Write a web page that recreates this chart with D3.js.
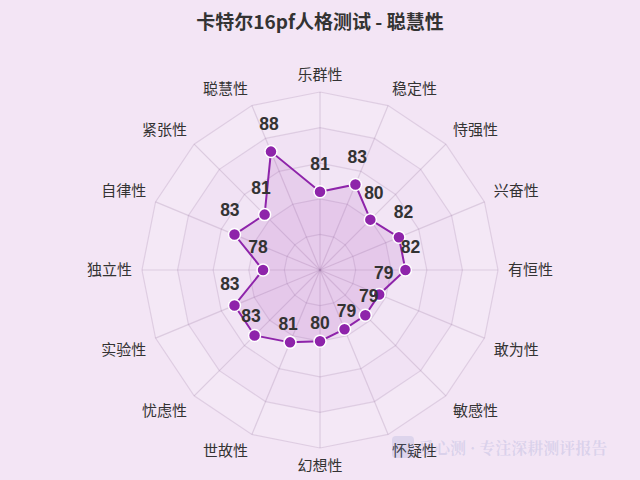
<!DOCTYPE html>
<html><head><meta charset="utf-8">
<script src="https://cdn.jsdelivr.net/npm/d3@7"></script>
<style>body{margin:0;background:#f3e5f5;}svg{display:block;}</style>
</head><body>
<svg id="c" width="640" height="480"></svg>
<script>
const categories = ["乐群性","稳定性","恃强性","兴奋性","有恒性","敢为性","敏感性","怀疑性","幻想性","世故性","忧虑性","实验性","独立性","自律性","紧张性","聪慧性"];
const scores = [81,83,80,82,82,79,79,79,80,81,83,83,78,83,81,88];
const scaleMin = 70, scaleMax = 95, splitCount = 5;
const titleText = "卡特尔16pf人格测试 - 聪慧性";
const watermarkText = "爱心测 · 专注深耕测评报告";

const svg = d3.select("#c");
const W = 640, H = 480, cx = 320, cy = 270, R = 178;
const font = "'Noto Sans CJK SC', 'Liberation Sans', sans-serif";
svg.append("rect").attr("width",W).attr("height",H).attr("fill","#f3e5f5");

const n = categories.length;
const r = d3.scaleLinear().domain([scaleMin, scaleMax]).range([0, R]);
const ang = i => -Math.PI/2 + i * 2*Math.PI/n;
const pt = (i, rad) => [cx + rad*Math.cos(ang(i)), cy + rad*Math.sin(ang(i))];

const g = svg.append("g");
// split areas
const levels = d3.range(splitCount, 0, -1);
levels.forEach(lv => {
  const rad = R * lv / splitCount;
  const pts = d3.range(n).map(i => pt(i, rad));
  g.append("polygon").attr("points", pts.map(p=>p.join(",")).join(" "))
    .attr("fill", lv % 2 ? "rgba(255,255,255,0.12)" : "rgba(171,71,188,0.03)")
    .attr("stroke", "rgba(150,120,160,0.22)").attr("stroke-width", 1.2);
});
// axis lines
d3.range(n).forEach(i => {
  const p = pt(i, R);
  g.append("line").attr("x1",cx).attr("y1",cy).attr("x2",p[0]).attr("y2",p[1])
    .attr("stroke","rgba(150,120,160,0.25)").attr("stroke-width",1.2);
});
// category labels
const labelR = R + 10;
categories.forEach((c, i) => {
  const a = ang(i), p = pt(i, labelR);
  const cs = Math.cos(a), sn = Math.sin(a);
  let anchor = Math.abs(cs) < 0.01 ? "middle" : (cs > 0 ? "start" : "end");
  let dy = Math.abs(sn) < 0.01 ? "0.35em" : (sn < 0 ? "-0.15em" : "0.85em");
  svg.append("text").attr("x", p[0]).attr("y", p[1]).attr("dy", dy)
    .attr("text-anchor", anchor).attr("font-family", font).attr("font-size", 15)
    .attr("fill", "#333").text(c);
});
// data area
const radial = d3.lineRadial().angle((d,i)=> i*2*Math.PI/n).radius(d=>r(d)).curve(d3.curveLinearClosed);
svg.append("path").attr("transform",`translate(${cx},${cy})`)
  .attr("d", radial(scores))
  .attr("fill","rgba(156,39,176,0.12)").attr("stroke","#8e24aa").attr("stroke-width",2);
scores.forEach((v,i)=>{
  const p = pt(i, r(v));
  svg.append("circle").attr("cx",p[0]).attr("cy",p[1]).attr("r",6)
    .attr("fill","#8e24aa").attr("stroke","#fff").attr("stroke-width",1.5);
});
scores.forEach((v,i)=>{
  const p = pt(i, r(v) + 5);
  svg.append("text").attr("x",p[0]).attr("y",p[1]-17).attr("text-anchor","middle")
    .attr("font-family","'Liberation Sans', Arial, sans-serif").attr("font-weight","bold")
    .attr("font-size",17.5).attr("fill","#333").text(v);
});
// title
svg.append("text").attr("x",320).attr("y",29).attr("text-anchor","middle")
  .attr("font-family",font).attr("font-weight","bold").attr("font-size",19)
  .attr("fill","#333").text(titleText);
// watermark
svg.append("rect").attr("x",392).attr("y",436).attr("width",22).attr("height",22).attr("rx",4)
  .attr("fill","rgba(120,140,200,0.18)");
svg.append("text").attr("x",418).attr("y",454).attr("font-family","'Noto Serif CJK SC','Noto Sans CJK SC',serif")
  .attr("font-weight","bold").attr("font-size",16).attr("fill","rgba(130,140,200,0.22)").text(watermarkText);
</script>
</body></html>
